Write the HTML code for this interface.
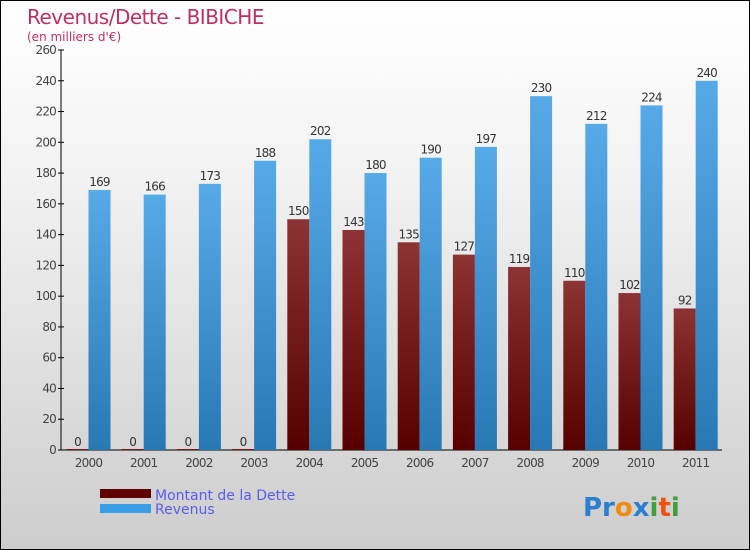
<!DOCTYPE html>
<html><head><meta charset="utf-8"><style>
body{margin:0}
#c{position:relative;width:748px;height:548px;border:1px solid #000;background:linear-gradient(#fff,#f3f3f3 30%,#cdcdcd);font-family:"DejaVu Sans","Liberation Sans",sans-serif;overflow:hidden}
</style></head><body>
<div id="c">
<svg width="748" height="548" id="s">
<defs>
<linearGradient id="gd" x1="0" y1="0" x2="0" y2="1"><stop offset="0" stop-color="#8c3333"/><stop offset="1" stop-color="#560000"/></linearGradient>
<linearGradient id="gr" x1="0" y1="0" x2="0" y2="1"><stop offset="0" stop-color="#57aae8"/><stop offset="1" stop-color="#2878b4"/></linearGradient>
</defs>
<text x="26" y="23" font-size="20" fill="#c0305e" letter-spacing="-0.5">Revenus/Dette - BIBICHE</text>
<text x="26" y="40" font-size="12" fill="#c0305e">(en milliers d'€)</text>
<g id="axes"></g><g id="bars"></g>
<rect x="99" y="488" width="51" height="9" fill="#600000"/>
<rect x="99" y="503" width="51" height="9" fill="#3a9ee6"/>
<text x="154" y="499" font-size="14" fill="#5c5cf0">Montant de la Dette</text>
<text x="154" y="513" font-size="14" fill="#5c5cf0">Revenus</text>
<text x="582" y="515" font-size="26" font-weight="bold"><tspan fill="#2a7fd0">Pr</tspan><tspan fill="#f08a10">o</tspan><tspan fill="#2a7fd0">x</tspan><tspan fill="#40a040">i</tspan><tspan fill="#f05010">t</tspan><tspan fill="#40a040">i</tspan></text>
</svg></div>
<script>
const years=["2000","2001","2002","2003","2004","2005","2006","2007","2008","2009","2010","2011"];
const dette=[0,0,0,0,150,143,135,127,119,110,102,92];
const revenus=[169,166,173,188,202,180,190,197,230,212,224,240];
const ticks=[0,20,40,60,80,100,120,140,160,180,200,220,240,260];
const NS="http://www.w3.org/2000/svg";
const y=v=>449-v*400/260, x=i=>87.5+i*55.2, bw=22;
function mk(p,t,a){const e=document.createElementNS(NS,t);for(const k in a)e.setAttribute(k,a[k]);p.appendChild(e);return e;}
const ax=document.getElementById('axes'), bg=document.getElementById('bars');
let l=mk(ax,'line',{x1:60,y1:49,x2:60,y2:449,stroke:'#000'});


l=mk(ax,'line',{x1:60,y1:449,x2:721,y2:449,stroke:'#000'});


ticks.forEach(t=>{mk(ax,'line',{x1:57,x2:63,y1:y(t),y2:y(t),stroke:'#000'});
const e=mk(ax,'text',{x:55,y:y(t)+4,'font-size':12,'text-anchor':'end',fill:'#444','letter-spacing':'-0.8'});e.textContent=t;

});
years.forEach((yr,i)=>{const cx=x(i);
const t=mk(ax,'text',{x:cx,y:466,'font-size':12,'text-anchor':'middle',fill:'#444','letter-spacing':'-0.8'});t.textContent=yr;


const d=mk(bg,'rect',{x:cx-bw,y:y(dette[i])-(dette[i]?0:1),width:bw,height:449-y(dette[i])+(dette[i]?0:1),fill:'url(#gd)'});


const r=mk(bg,'rect',{x:cx,y:y(revenus[i]),width:bw,height:449-y(revenus[i]),fill:'url(#gr)'});


const dl=mk(bg,'text',{x:cx-bw/2,y:y(dette[i])-4,'font-size':12,'text-anchor':'middle',fill:'#333','letter-spacing':'-0.8'});dl.textContent=dette[i];


const rl=mk(bg,'text',{x:cx+bw/2,y:y(revenus[i])-4,'font-size':12,'text-anchor':'middle',fill:'#333','letter-spacing':'-0.8'});rl.textContent=revenus[i];

});
</script>
</body></html>
